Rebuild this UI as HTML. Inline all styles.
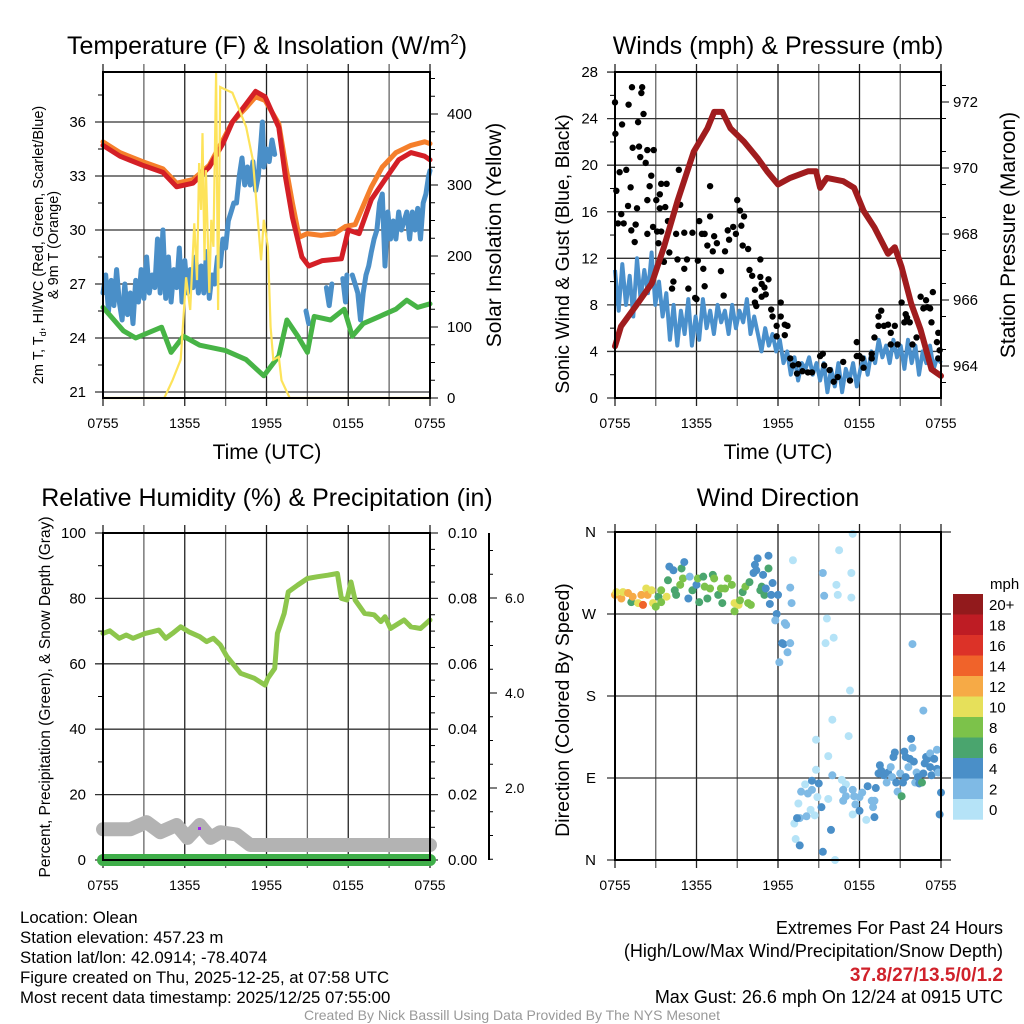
<!DOCTYPE html>
<html><head><meta charset="utf-8"><style>
html,body{margin:0;padding:0;background:#fff}
svg{display:block;font-family:"Liberation Sans",sans-serif}
</style></head><body>
<svg id="fig" width="1024" height="1024" viewBox="0 0 1024 1024" xmlns="http://www.w3.org/2000/svg">
<rect width="1024" height="1024" fill="#fff"/>
<g font-size="25" text-anchor="middle" fill="#000">
<text x="267" y="54">Temperature (F) &amp; Insolation (W/m<tspan font-size="15" dy="-10">2</tspan><tspan dy="10">)</tspan></text>
<text x="778" y="54">Winds (mph) &amp; Pressure (mb)</text>
<text x="267" y="506">Relative Humidity (%) &amp; Precipitation (in)</text>
<text x="778" y="506">Wind Direction</text>
</g>
<g font-size="21" text-anchor="middle">
<text x="267" y="459">Time (UTC)</text>
<text x="778" y="459">Time (UTC)</text>
<text transform="translate(501,235) rotate(-90)">Solar Insolation (Yellow)</text>
<text transform="translate(1015,235) rotate(-90)">Station Pressure (Maroon)</text>
</g>
<g font-size="14.5" text-anchor="middle">
<text transform="translate(43,245) rotate(-90)">2m T, T<tspan font-size="9" dy="3">d</tspan><tspan dy="-3">, HI/WC (Red, Green, Scarlet/Blue)</tspan></text>
<text transform="translate(58,245) rotate(-90)">&amp; 9m T (Orange)</text>
<text transform="translate(50,697) rotate(-90)" font-size="15.5">Percent, Precipitation (Green), &amp; Snow Depth (Gray)</text>
</g>
<g font-size="19.5" text-anchor="middle">
<text transform="translate(569,254) rotate(-90)">Sonic Wind &amp; Gust (Blue, Black)</text>
<text transform="translate(569,710) rotate(-90)">Direction (Colored By Speed)</text>
</g>
<g id="layer"></g>
<g font-size="16.8" fill="#000">
<text x="20" y="923">Location: Olean</text>
<text x="20" y="943">Station elevation: 457.23 m</text>
<text x="20" y="963">Station lat/lon: 42.0914; -78.4074</text>
<text x="20" y="983">Figure created on Thu, 2025-12-25, at 07:58 UTC</text>
<text x="20" y="1003">Most recent data timestamp: 2025/12/25 07:55:00</text>
</g>
<g font-size="18" text-anchor="end">
<text x="1003" y="934">Extremes For Past 24 Hours</text>
<text x="1003" y="957">(High/Low/Max Wind/Precipitation/Snow Depth)</text>
<text x="1003" y="981" font-size="19" font-weight="bold" fill="#d0222b">37.8/27/13.5/0/1.2</text>
<text x="1003" y="1003">Max Gust: 26.6 mph On 12/24 at 0915 UTC</text>
</g>
<text x="512" y="1020" font-size="14" fill="#999" text-anchor="middle">Created By Nick Bassill Using Data Provided By The NYS Mesonet</text>
</svg>
<script>
// ---- data ----
const xTickLabels = ["0755","1355","1955","0155","0755"];
const tempTicks = [21,24,27,30,33,36];
const solarTicks = [0,100,200,300,400];
const windTicks = [0,4,8,12,16,20,24,28];
const presTicks = [964,966,968,970,972];
const rhTicks = [0,20,40,60,80,100];
const precipTicks = ["0.00","0.02","0.04","0.06","0.08","0.10"];
const snowTicks = [2.0,4.0,6.0];
const dirLabels = ["N","E","S","W","N"];
const speedBins = ["0","2","4","6","8","10","12","14","16","18","20+"];
const speedColors = ["#b5e3f7","#7fbae5","#4a8fc8","#4aa56e","#7cc24a","#e6e05a","#f6aa46","#f0632a","#dc3228","#be1c24","#921a1c"];

const redH = [0,1.25,2.9,4.4,5.4,6.6,7.8,8.8,9.5,10.5,11.2,11.9,12.9,13.4,13.9,14.6,15.1,16.1,17.5,18,18.8,19.7,20.7,21.7,22.6,23.6,24];
const redT = [34.7,34.1,33.6,33.2,32.4,32.6,33.5,34.8,36,37,37.7,37.4,35.7,32.9,30.7,28.5,28,28.3,28.4,30,29.8,31.7,32.8,33.9,34.3,34.1,33.9];
const orangeH = [0,1.25,2.9,4.4,5.4,6.6,7.8,8.8,9.5,10.5,11.2,11.9,12.9,13.4,13.9,14.4,15,16,17,17.8,18.5,19.7,20.5,21.5,22.6,23.6,24];
const orangeT = [34.9,34.3,33.8,33.4,32.6,32.8,33.6,35,36,36.8,37.4,37.2,35.9,33.6,31.5,29.6,29.8,29.7,29.8,30.2,30.3,32.4,33.5,34.3,34.7,34.9,34.8];
const greenH = [0,1.5,2.4,4.3,5,5.9,7.1,9,10.5,11.8,12.9,13.5,14.3,15,15.5,16.7,17.7,18.3,19.1,20.3,21.5,22.3,23.1,24];
const greenT = [25.7,24.4,24,24.6,23.2,24.1,23.6,23.3,22.8,21.9,23,25,24.1,23.2,25.2,25,25.6,24.1,24.8,25.2,25.6,26.1,25.7,25.9];
const blueH = [0,0.2,0.4,0.6,0.8,1,1.2,1.4,1.6,1.8,2,2.2,2.4,2.6,2.8,3,3.2,3.4,3.6,3.8,4,4.2,4.4,4.6,4.8,5,5.2,5.4,5.6,5.8,6,6.2,6.4,6.6,6.8,7,7.2,7.4,7.6,7.8,8,8.2,8.4,8.6,8.8,9,9.2,9.4,9.6,9.8,10,10.2,10.4,10.6,10.8,11,11.2,11.4,11.6,11.7,11.8,12,12.2,12.4,12.6,12.7,14.9,15.1,15.2,16.4,16.6,16.8,16.9,17.6,17.8,17.9,18,18.3,18.5,18.7,18.9,19.1,19.3,19.5,19.7,19.9,20.1,20.3,20.5,20.7,20.9,21.1,21.3,21.5,21.7,21.9,22.1,22.3,22.5,22.7,22.9,23.1,23.3,23.5,23.7,23.9,24];
const blueT = [26.5,27.5,25.5,27.2,25.8,27.8,26,25,27,25.3,26.5,24.8,27.2,26,27.8,26.2,28.5,26.5,27.5,26.8,29.5,26.5,30,26.2,28.5,26,27.8,26.8,29,26,28.3,26.5,27.8,26.8,28.5,26.5,28,26.5,28.8,26.2,27.5,27,28.5,28,29.5,29,30.5,31,31.5,31.5,33,34,32.5,33.5,32.5,33.8,32.2,33,35,36,33.5,34.5,33.8,35,34.2,null,25.5,24.8,null,26.8,25.8,27,null,27.3,26,27.5,null,27.5,27,26.5,25,26.5,27.5,28,28.8,29.5,30,31.5,32,28,31,29.5,30.5,29.5,31,30,30.5,31,29.5,31,30,31.2,29.5,31.5,32,33,33.3];
const solarH = [0,4.5,5.1,5.7,6.1,6.4,6.7,6.9,7.05,7.2,7.3,7.45,7.55,7.8,7.95,8.1,8.3,8.45,8.6,8.8,9.5,10,10.5,11,11.3,11.6,11.8,12.1,12.3,12.5,12.9,13.1,13.7,24];
const solarW = [0,0,25,54,170,124,246,166,331,265,373,194,321,148,251,213,458,124,438,436,430,406,382,335,265,194,251,213,100,54,58,25,0,0];

const windSpd = [11,7.5,11.5,8,10.5,7,12,8.5,11,9,12.5,8,10,7,9,5,8,4.5,7.5,5.5,8.5,4.5,7,5,8.5,6,7.5,5.5,8,6.5,7.5,5.5,8,6,7.5,6.5,8.5,5.5,7,5.5,4,6,4.5,5.5,4,5,3,4,2,3.5,1.5,3,2.5,3.5,2,3,1.5,3,0.5,2.5,1,3,0.5,2.5,1.5,3,1,2.5,3.5,2,4,3,5,3.5,4.5,3,5,3.5,4.5,2.5,5,3,4.5,2,4,3,4.5,2.5,3.5,3];
const gustH = [0,0.03,0.52,1.25,1.94,2,1,2.1,1.7,1.3,1.77,1.86,2.38,2.85,2.26,0.34,0.83,0.1,1.15,2.55,2.67,0.46,0.22,0.64,0.96,1.62,1.52,1.2,1.45,2.38,2.38,2.8,3.04,3.3,3.4,3.8,3.3,3.7,3.9,3.1,3.4,3.2,3.6,4,4.3,4.2,4.6,4.7,4.8,4.5,5.1,5.3,5.7,5.1,5.4,5.9,6,6.2,6.4,6.6,6.8,7,7.2,7.3,6.6,6.1,6.5,7,7.5,7.8,8,8.1,8.3,8.4,8.7,8.9,9,9.2,9.3,9.5,9.4,9.8,9.9,10.1,10.3,10.7,10.8,11,11.3,11.1,10.8,10.4,10.3,10.7,11.5,11.6,11.9,12.2,12.2,12.5,12.7,11.9,12.5,12.9,13.1,13.5,13.4,13.8,14.2,14.5,15.1,15.3,15.4,15.8,16.1,16.4,16.8,17.3,17.8,17.8,18,18.2,18.3,18.9,18.9,19.1,19.4,19.6,19.4,19.8,20.1,20.3,20.3,20.6,20.8,21.1,21.3,21.4,21.5,21.7,21.9,22.2,22.5,22.7,22.9,23,23.2,23.4,23.8,23.9,23.7,23.8,23.3];
const gustV = [25.4,22.7,23.5,26.7,26.2,26.7,25.2,24.4,23.7,21.5,21.6,20.7,21.3,21.3,20.2,19.4,19.6,17.8,18.1,18.2,19.1,15.8,15,15,16.5,16.3,14.9,14.4,13.4,17,14.1,14.7,17,17.5,18.4,18.4,16.3,16.4,15.2,14.3,14.3,13.3,11.7,12.5,10,9.4,11.9,19.6,16.6,14.1,14.2,11.9,14.2,11.1,9.4,8.6,8.5,15.2,14.1,14.1,13.1,15.6,12.6,13.9,9.6,11.8,11.1,18.2,13.3,10.9,8.8,12.6,14.4,13.6,14.7,14.1,17,16.1,14.8,15.6,13.1,12.8,11,10.5,9.3,10.4,9.8,9.5,10.2,8.9,8.7,7.9,8.2,11.9,7.6,7,6.2,8.2,7,6.3,6.2,5.3,5.4,3.4,2.8,2.9,2.1,2.3,2.2,2.2,3.6,3.8,2.8,2.4,1.4,1.8,3.1,1.5,3.6,4.8,3.6,3.4,2.6,3.4,3.8,5.2,7,7.5,6.2,6.2,6.3,5.6,4.6,6.2,4.6,8.2,6.5,7.2,6.9,6.5,4.6,5.2,8.7,7.7,8.4,7.8,7.7,9.1,5.6,4.1,4.8,3.4,6.5];
const presH = [0,0.44,1.5,2.7,3.6,4.6,5.8,6.8,7.3,7.9,8.5,9.5,10.5,11.2,12,12.9,14.2,14.8,15.1,15.6,16.8,17.6,18.3,19.1,20.1,20.6,21.1,21.8,22.5,23.3,24];
const presV = [964.6,965.2,965.8,966.5,967.6,969,970.5,971.2,971.7,971.7,971.2,970.8,970.3,969.9,969.5,969.7,969.9,969.9,969.4,969.7,969.6,969.4,968.7,968.2,967.4,967.6,967,965.9,965.1,963.9,963.7];

const rhH = [0,0.5,1.2,1.7,2.2,3.1,3.6,4.1,4.6,5.1,5.7,6.3,7.1,7.6,8.1,8.6,9.1,10.1,11.1,11.9,12.1,12.6,12.8,13.3,13.6,14.3,15,15.7,16.5,17.2,17.5,17.9,18.2,18.5,19.2,19.9,20.4,20.7,21.1,22.1,22.6,23.3,24];
const rhV = [69.3,70.1,67.8,68.8,67.8,69.3,69.8,70.3,67.8,69.3,71.3,69.8,68.3,66.8,67.8,65.8,62.2,57.1,55.6,53.5,55.6,58.6,69.3,75.4,82,84.1,86.1,86.6,87.1,87.6,80,79.5,85,79.5,75.4,75,72.9,74.4,70.8,73.4,71.3,70.8,73.4];
const snowH = [0,2,3.2,4.2,5.4,6.2,7.1,7.9,8.6,9.8,10.8,24];
const snowV = [1.13,1.13,1.28,1.07,1.22,0.95,1.22,0.95,1.07,1.02,0.8,0.8];
const precipH = [0,24];
const precipV = [0,0];

const dirH = [0,0.1,0.47,0.59,0.96,1.2,1.3,1.7,1.94,2.06,2.3,2.4,2.7,2.8,3,3.2,3.4,3.4,3.8,3.9,4,4.3,4.4,4.5,4.8,4.9,5.1,5,5.4,5.5,5.7,6,6.1,6.2,6.5,6.6,6.8,7,7.2,7.3,7.6,7.8,7.9,8.1,8.3,8.6,8.8,8.8,9.1,9.2,9.4,9.6,9.8,9.9,10,10.2,10.3,10.5,10.4,10.7,10.8,10.9,11,11.3,11.3,11.1,11.5,11.4,11.6,12,11.9,11.8,12.5,12.6,12.3,12.4,12.9,12.7,12.1,12.9,13,13.1,15.3,15.4,16.3,16.4,16.5,17.5,17.4,17.4,15.6,16.1,15.5,17.3,21.9,22.7,16,17.2,14.8,15.7,14.8,16,16.7,17,14,14.5,15,13.7,14.2,14.5,14.9,13.5,14.4,13.6,13.2,13.4,14.1,14.7,15.2,15.7,15.9,13.3,13.6,15.3,16.2,16.8,17,16.8,17.5,17.6,17.7,18,18.2,18,17.5,18.5,18.6,18.9,19,19.1,19.1,19.2,19.4,19.5,19.6,19.8,20,20.1,20.3,20.4,20.5,20.6,20.7,20.8,21.1,21,21.2,21.3,21.4,21.4,21.6,21.7,21.8,21.9,22,22.1,22.2,22.3,22.4,22.6,22.7,22.8,22.9,23,23.2,23.2,23.3,23.5,23.7,23.7,23.8,23.9,24];
const dirV = [291,294,287,294,293,283,289,282,291,280,298,291,296,282,278,289,296,283,289,307,322,318,296,291,302,320,327,309,287,311,296,302,309,283,311,300,287,298,313,309,291,298,282,298,309,302,282,273,280,285,294,300,282,305,280,315,324,331,318,296,300,313,291,334,320,298,291,281,304,291,270,263,260,258,238,237,238,228,217,299,282,329,315,290,302,291,340,358,315,288,265,244,238,186,237,164,154,136,132,114,99,93,88,83,83,87,84,75,73,77,69,62,55,46,40,46,48,49,58,67,33,23,16,9,0,77,70,65,77,70,61,69,74,54,50,44,81,65,58,65,47,79,95,104,98,93,85,96,102,91,113,118,85,75,70,95,85,119,113,91,102,111,133,123,108,85,96,91,84,85,95,106,113,111,117,102,93,111,121,100,96,50,74];
const dirSpd = [12,10,12,10,12,6,12,10,12,14,10,12,10,10,8,6,8,8,10,6,4,4,6,6,8,6,4,8,4,2,6,4,8,6,6,8,6,8,6,8,6,8,6,8,8,8,10,8,10,8,6,8,8,6,8,4,4,4,4,6,6,4,6,4,6,4,4,4,4,4,4,2,2,2,4,4,2,2,2,2,2,0,2,2,0,0,0,0,0,0,0,0,0,0,2,2,0,0,0,0,0,2,0,0,0,4,4,2,2,2,0,0,0,2,0,4,2,0,4,0,4,0,4,4,0,2,2,2,2,2,2,2,2,4,0,0,4,2,2,2,4,4,4,4,4,4,2,4,2,2,4,4,4,2,6,2,4,4,4,4,2,4,4,2,4,2,2,4,4,6,4,4,4,4,2,4,4,4,2,4,2,4,4];

// ---- helpers ----
const NS = "http://www.w3.org/2000/svg";
const layer = document.getElementById("layer");
function mk(tag, attrs, parent) {
  const e = document.createElementNS(NS, tag);
  for (const k in attrs) e.setAttribute(k, attrs[k]);
  (parent || layer).appendChild(e);
  return e;
}
function txt(x, y, s, size, anchor, parent) {
  const t = mk("text", {x: x, y: y, "font-size": size, "text-anchor": anchor}, parent);
  t.textContent = s;
  return t;
}
function pathFrom(xs, ys, fx, fy) {
  let d = "", pen = false;
  for (let i = 0; i < xs.length; i++) {
    if (ys[i] === null) { pen = false; continue; }
    d += (pen ? "L" : "M") + fx(xs[i]).toFixed(1) + " " + fy(ys[i]).toFixed(1);
    pen = true;
  }
  return d;
}
function panelFrame(P, name) {
  const g = mk("g", {});
  
  
  for (let i = 0; i <= 8; i++) {
    const x = P.x0 + i * (P.x1 - P.x0) / 8;
    mk("line", {x1: x, x2: x, y1: P.y0 - 8, y2: P.y1 + 8, stroke: i % 2 ? "#666" : "#222", "stroke-width": 1.3}, g);
  }
  xTickLabels.forEach((s, i) => {
    const t = txt(P.x0 + i * (P.x1 - P.x0) / 4, P.y1 + 30, s, 14, "middle", g);
    
    
  });
  return g;
}
function border(P, g) {
  mk("rect", {x: P.x0, y: P.y0, width: P.x1 - P.x0, height: P.y1 - P.y0, fill: "none", stroke: "#000", "stroke-width": 2}, g);
}

// ---- Panel 1: temperature ----
const P1 = {x0: 103, x1: 430, y0: 72, y1: 398};
const hx1 = h => P1.x0 + h / 24 * (P1.x1 - P1.x0);
const ty = t => 122 + (36 - t) * 18;
const sy = w => 398 - w * 0.71;
const g1 = panelFrame(P1, "temperature");
tempTicks.forEach(v => {
  mk("line", {x1: P1.x0 - 8, x2: P1.x1, y1: ty(v), y2: ty(v), stroke: "#333", "stroke-width": 1.3}, g1);
  const t = txt(86, ty(v) + 5, String(v), 15, "end", g1);
  
  
});
for (let v = 22.5; v < 38.5; v += 3) mk("line", {x1: P1.x0 - 5, x2: P1.x0, y1: ty(v), y2: ty(v), stroke: "#000"}, g1);
solarTicks.forEach(v => {
  mk("line", {x1: P1.x1, x2: P1.x1 + 8, y1: sy(v), y2: sy(v), stroke: "#000"}, g1);
  const t = txt(447, sy(v) + 5, String(v), 15, "start", g1);
  
  
});
for (let v = 25; v < 460; v += 25) if (v % 100) mk("line", {x1: P1.x1, x2: P1.x1 + 5, y1: sy(v), y2: sy(v), stroke: "#000"}, g1);
const s1 = [
  [blueH, blueT, "#4a8fc8", 5, "dewpoint-blue-line"],
  [greenH, greenT, "#47b446", 5, "dewpoint-green-line"],
  [orangeH, orangeT, "#f57f2b", 5, "temperature-9m-orange-line"],
  [redH, redT, "#d41f26", 5, "temperature-2m-red-line"]
];
s1.forEach(s => {
  const p = mk("path", {d: pathFrom(s[0], s[1], hx1, ty), fill: "none", stroke: s[2], "stroke-width": s[3], "stroke-linejoin": "round", "stroke-linecap": "round"});
  
  
});
const sol = mk("path", {d: pathFrom(solarH, solarW, hx1, sy), fill: "none", stroke: "#fde35a", "stroke-width": 2.2});


border(P1, layer);

// ---- Panel 2: winds ----
const P2 = {x0: 615, x1: 941, y0: 72, y1: 398};
const hx2 = h => P2.x0 + h / 24 * (P2.x1 - P2.x0);
const wy = v => 398 - v * 11.64;
const py = p => 366 - (p - 964) * 33;
const g2 = panelFrame(P2, "winds");
windTicks.forEach(v => {
  mk("line", {x1: P2.x0 - 8, x2: P2.x1, y1: wy(v), y2: wy(v), stroke: "#333", "stroke-width": 1.3}, g2);
  const t = txt(598, wy(v) + 5, String(v), 15, "end", g2);
  
  
});
for (let v = 2; v < 28; v += 4) mk("line", {x1: P2.x0 - 5, x2: P2.x0, y1: wy(v), y2: wy(v), stroke: "#000"}, g2);
presTicks.forEach(v => {
  mk("line", {x1: P2.x1, x2: P2.x1 + 8, y1: py(v), y2: py(v), stroke: "#000"}, g2);
  const t = txt(953, py(v) + 5, String(v), 15, "start", g2);
  
  
});
for (let v = 963.5; v < 973; v += 1) mk("line", {x1: P2.x1, x2: P2.x1 + 5, y1: py(v), y2: py(v), stroke: "#000"}, g2);
const wH = windSpd.map((v, i) => i * 24 / (windSpd.length - 1));
const wl = mk("path", {d: pathFrom(wH, windSpd, hx2, wy), fill: "none", stroke: "#4a90cc", "stroke-width": 4, "stroke-linejoin": "round"});


const gg = mk("g", {});


gustH.forEach((h, i) => {
  const c = mk("circle", {cx: hx2(h), cy: wy(gustV[i]), r: 3.2, fill: "#000"}, gg);
  
  
});
const pl = mk("path", {d: pathFrom(presH, presV, hx2, py), fill: "none", stroke: "#a01c1e", "stroke-width": 6, "stroke-linejoin": "round", "stroke-linecap": "round"});


border(P2, layer);

// ---- Panel 3: humidity ----
const P3 = {x0: 103, x1: 430, y0: 533, y1: 860};
const hx3 = h => P3.x0 + h / 24 * (P3.x1 - P3.x0);
const ry = v => 860 - v * 3.27;
const sny = s => 883 - s * 47.5;
const g3 = panelFrame(P3, "humidity");
rhTicks.forEach((v, i) => {
  mk("line", {x1: P3.x0 - 8, x2: P3.x1 + 8, y1: ry(v), y2: ry(v), stroke: "#333", "stroke-width": 1.3}, g3);
  const t = txt(86, ry(v) + 5, String(v), 15, "end", g3);
  
  
  const t2 = txt(448, ry(v) + 5, precipTicks[i], 15, "start", g3);
  
  
});
for (let v = 10; v < 100; v += 20) mk("line", {x1: P3.x0 - 5, x2: P3.x0, y1: ry(v), y2: ry(v), stroke: "#000"}, g3);
for (let v = 5; v < 100; v += 5) if (v % 20) mk("line", {x1: P3.x1, x2: P3.x1 + 5, y1: ry(v), y2: ry(v), stroke: "#000"}, g3);
mk("line", {x1: 489, x2: 489, y1: 533, y2: 860, stroke: "#000", "stroke-width": 2}, g3);
for (let s = 0.5; s < 7.2; s += 0.5) if (sny(s) > 533) mk("line", {x1: 489, x2: 493, y1: sny(s), y2: sny(s), stroke: "#000"}, g3);
snowTicks.forEach(v => {
  mk("line", {x1: 489, x2: 497, y1: sny(v), y2: sny(v), stroke: "#000"}, g3);
  const t = txt(505, sny(v) + 5, v.toFixed(1), 14, "start", g3);
  
  
});
const sn = mk("path", {d: pathFrom(snowH, snowV, hx3, sny), fill: "none", stroke: "#b3b3b3", "stroke-width": 14, "stroke-linejoin": "round", "stroke-linecap": "round"});


const pr = mk("path", {d: pathFrom(precipH, precipV, hx3, v => 860 - v * 3270), fill: "none", stroke: "#3fae49", "stroke-width": 12, "stroke-linecap": "round"});


const dot = mk("rect", {x: 198, y: 827, width: 3, height: 3, fill: "#a020f0"});


const rl = mk("path", {d: pathFrom(rhH, rhV, hx3, ry), fill: "none", stroke: "#8dc64c", "stroke-width": 5, "stroke-linejoin": "round", "stroke-linecap": "round"});


border(P3, layer);

// ---- Panel 4: wind direction ----
const P4 = {x0: 615, x1: 941, y0: 532, y1: 860};
const hx4 = h => P4.x0 + h / 24 * (P4.x1 - P4.x0);
const dy = d => 860 - d / 360 * 328;
const g4 = panelFrame(P4, "direction");
dirLabels.forEach((s, i) => {
  const y = dy(i * 90);
  mk("line", {x1: P4.x0 - 8, x2: P4.x1 + 10, y1: y, y2: y, stroke: "#333", "stroke-width": 1.3}, g4);
  const t = txt(596, y + 5, s, 15, "end", g4);
  
  
});
const dg = mk("g", {});


dirH.forEach((h, i) => {
  const bin = Math.min(10, Math.floor(dirSpd[i] / 2));
  const c = mk("circle", {cx: hx4(h), cy: dy(dirV[i]), r: 4, fill: speedColors[bin]}, dg);
  
  
});
border(P4, layer);
const cb = mk("g", {});


const mph = txt(990, 589, "mph", 15, "start", cb);


speedBins.forEach((s, i) => {
  const k = 10 - i;
  const y = 594 + i * 20.5;
  const r = mk("rect", {x: 953, y: y, width: 30, height: 20.7, fill: speedColors[k]}, cb);
  
  
  const t = txt(989, y + 16, speedBins[k], 15, "start", cb);
  
  
});
</script>
</body></html>
